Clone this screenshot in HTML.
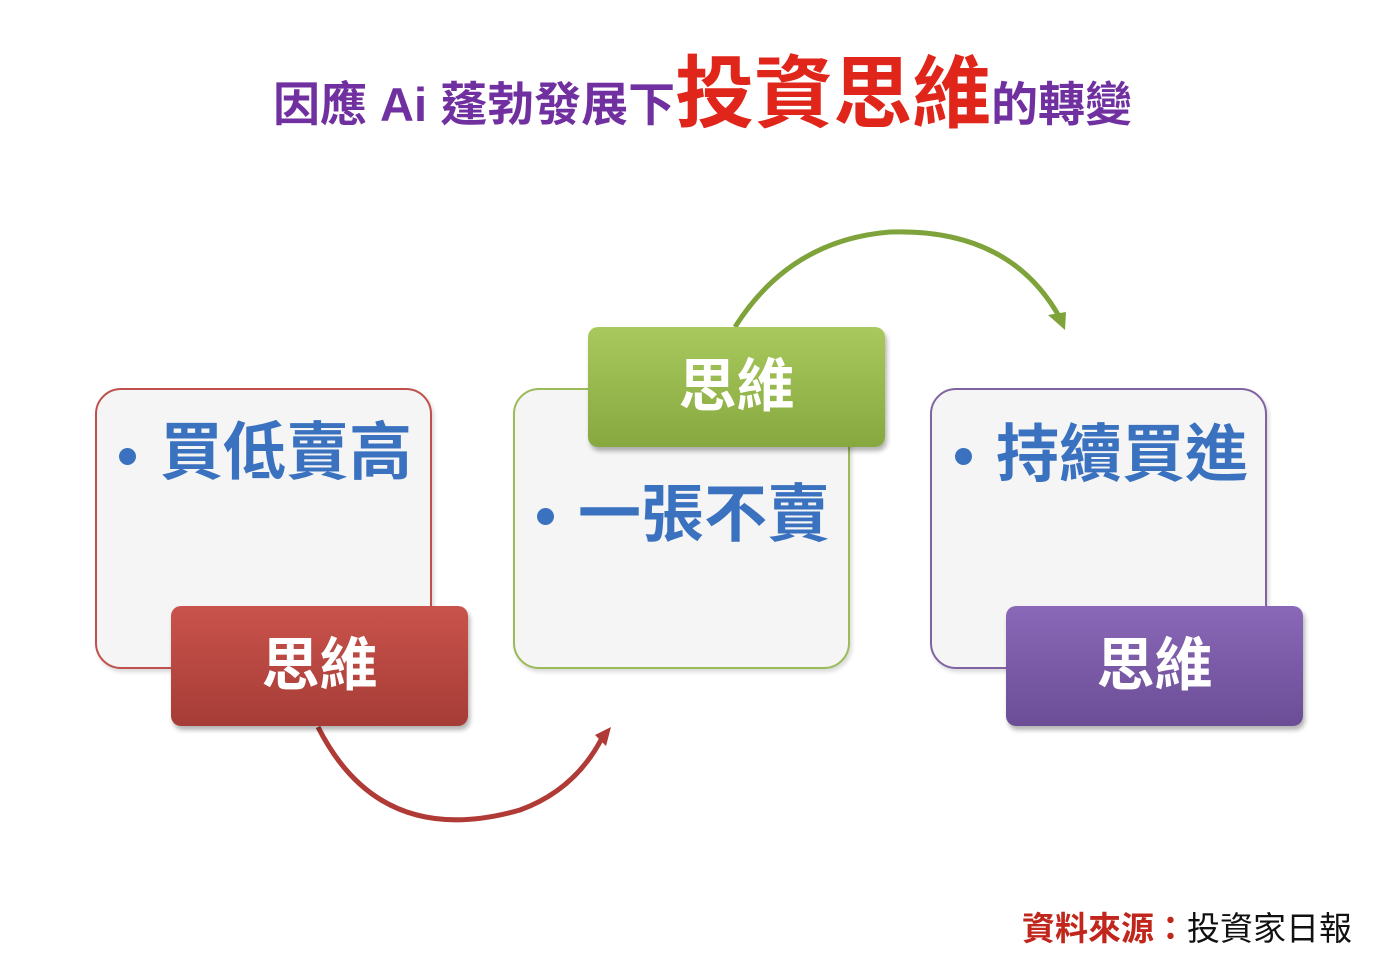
<!DOCTYPE html>
<html><head><meta charset="utf-8"><style>
body{margin:0;width:1399px;height:966px;background:#fff;position:relative;overflow:hidden;font-family:"Liberation Sans","Noto Sans CJK TC",sans-serif}
.box{position:absolute;width:333px;height:277px;border:2px solid;border-radius:26px;background:#f5f5f5;box-shadow:2px 3px 4px rgba(0,0,0,.15)}
.tag{position:absolute;width:297px;height:120px;border-radius:10px;color:#fff;font-size:58px;font-weight:bold;text-align:center;line-height:120px;box-shadow:2px 4px 5px rgba(0,0,0,.3)}
.t{position:absolute;color:#3a72c0;font-size:63px;font-weight:bold;white-space:nowrap;line-height:70px}
.d{position:absolute;width:17px;height:17px;border-radius:50%;background:#3a72c0}
</style></head><body>
<div style="position:absolute;left:273px;top:29px;white-space:nowrap;font-weight:bold;color:#7030a0">
<span style="font-size:47px">因應 Ai 蓬勃發展下</span><span style="font-size:79px;color:#e0261b">投資思維</span><span style="font-size:47px">的轉變</span></div>

<svg style="position:absolute;left:0;top:0" width="1399" height="966">
<path d="M318 727 Q380 850 520 810 Q575 790 602 738" fill="none" stroke="#b03a35" stroke-width="5"/>
<polygon points="595,735 611,727 606,746" fill="#b03a35"/>
<path d="M735 327 Q790 240 890 232 Q1010 228 1060 318" fill="none" stroke="#7ea33a" stroke-width="5"/>
<polygon points="1048,315 1066,312 1065,330" fill="#7ea33a"/>
</svg>

<div class="box" style="left:95px;top:388px;border-color:#c0504d"></div>
<div class="d" style="left:119px;top:448px"></div><div class="t" style="left:160px;top:418px">買低賣高</div>
<div class="tag" style="left:171px;top:606px;background:linear-gradient(#c9534c,#a63c36)">思維</div>

<div class="box" style="left:513px;top:388px;border-color:#9bbb59"></div>
<div class="tag" style="left:588px;top:327px;background:linear-gradient(#a9c95e,#86a83e)">思維</div>
<div class="d" style="left:537px;top:508px"></div><div class="t" style="left:578px;top:480px">一張不賣</div>

<div class="box" style="left:930px;top:388px;border-color:#8064a2"></div>
<div class="d" style="left:955px;top:448px"></div><div class="t" style="left:996px;top:420px">持續買進</div>
<div class="tag" style="left:1006px;top:606px;background:linear-gradient(#8a68b8,#6b4d96)">思維</div>

<div style="position:absolute;left:1022px;top:902px;font-size:33px;white-space:nowrap"><b style="color:#c0261b">資料來源：</b><span style="color:#111">投資家日報</span></div>
</body></html>
